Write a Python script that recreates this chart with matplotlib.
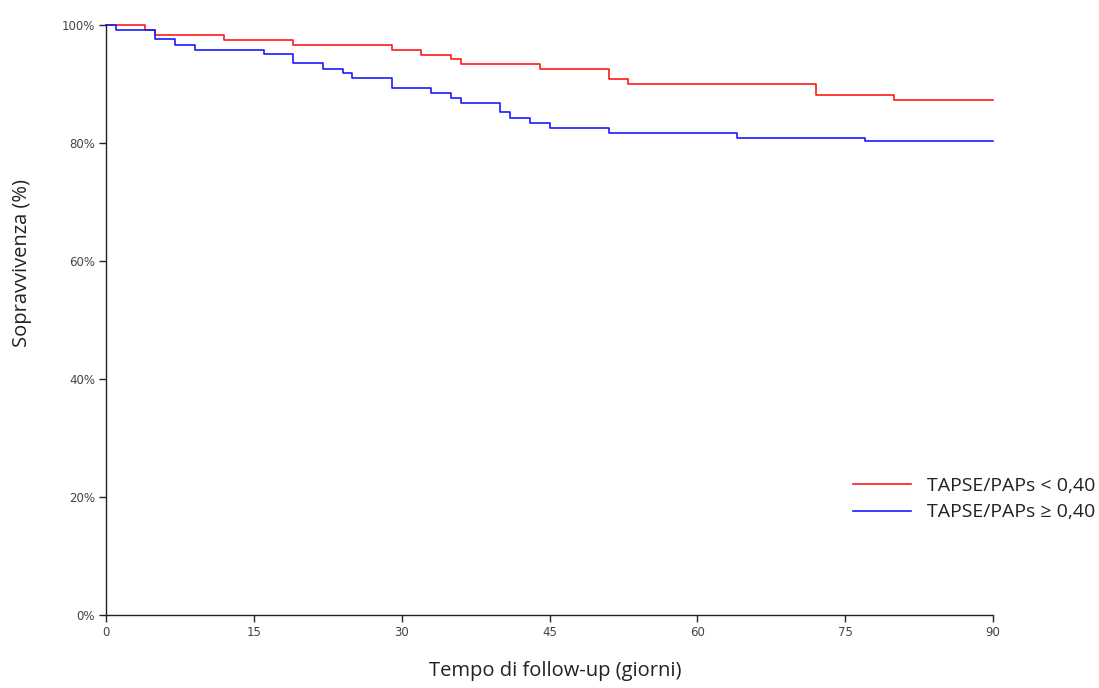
import matplotlib
matplotlib.use("Agg")
import matplotlib.pyplot as plt
from matplotlib.ticker import FuncFormatter

# Kaplan-Meier step data (days, survival %)
red_times = [0, 4, 5, 12, 19, 29, 32, 35, 36, 44, 51, 53, 72, 80, 90]
red_surv = [100, 99.2, 98.3, 97.5, 96.6, 95.8, 95.0, 94.2, 93.4, 92.5, 90.8, 90.0, 88.1, 87.3, 87.3]
blue_times = [0, 1, 5, 7, 9, 16, 19, 22, 24, 25, 29, 33, 35, 36, 40, 41, 43, 45, 51, 64, 77, 90]
blue_surv = [100, 99.2, 97.7, 96.6, 95.8, 95.1, 93.5, 92.6, 91.8, 91.0, 89.3, 88.5, 87.6, 86.8,
             85.2, 84.3, 83.4, 82.6, 81.7, 80.9, 80.3, 80.3]
labels = ["TAPSE/PAPs < 0,40", "TAPSE/PAPs \u2265 0,40"]
x_ticks = [0, 15, 30, 45, 60, 75, 90]
y_ticks = [0, 20, 40, 60, 80, 100]

fig = plt.figure(figsize=(10.99, 6.88), dpi=100)
ax = fig.add_axes([106/1099, 1 - 615/688, (993-106)/1099, (615-25)/688])

ax.step(red_times, red_surv, where="post", color="#ff1a1a", lw=1.2, label=labels[0], clip_on=False)
ax.step(blue_times, blue_surv, where="post", color="#1a1aff", lw=1.2, label=labels[1], clip_on=False)

ax.set_xlim(0, 90)
ax.set_ylim(0, 100)
ax.set_xticks(x_ticks)
ax.set_yticks(y_ticks)
ax.yaxis.set_major_formatter(FuncFormatter(lambda v, p: f"{int(v)}%"))
for s in ["top", "right"]:
    ax.spines[s].set_visible(False)
for s in ["left", "bottom"]:
    ax.spines[s].set_color("#222222")
    ax.spines[s].set_linewidth(1.0)
ax.tick_params(direction="out", length=5, width=1, colors="#222222", labelsize=8.5,
               labelcolor="#444444", pad=3)

ax.set_xlabel("Tempo di follow-up (giorni)", family="Open Sans", fontsize=14.5, color="#222222", labelpad=16)
ax.set_ylabel("Sopravvivenza (%)", family="Open Sans", fontsize=14.5, color="#222222", labelpad=21)
ax.xaxis.label.set_x(0.506)
ax.yaxis.label.set_y(0.597)

leg = ax.legend(loc="center left", bbox_to_anchor=(853/1099, 1 - 499/688), bbox_transform=fig.transFigure,
                frameon=False, handlelength=3.0, handletextpad=0.8, borderpad=0, borderaxespad=0,
                labelspacing=0.45, prop={"family": "Open Sans", "size": 14})
for t in leg.get_texts():
    t.set_color("#222222")

fig.savefig("out.png", dpi=100)
